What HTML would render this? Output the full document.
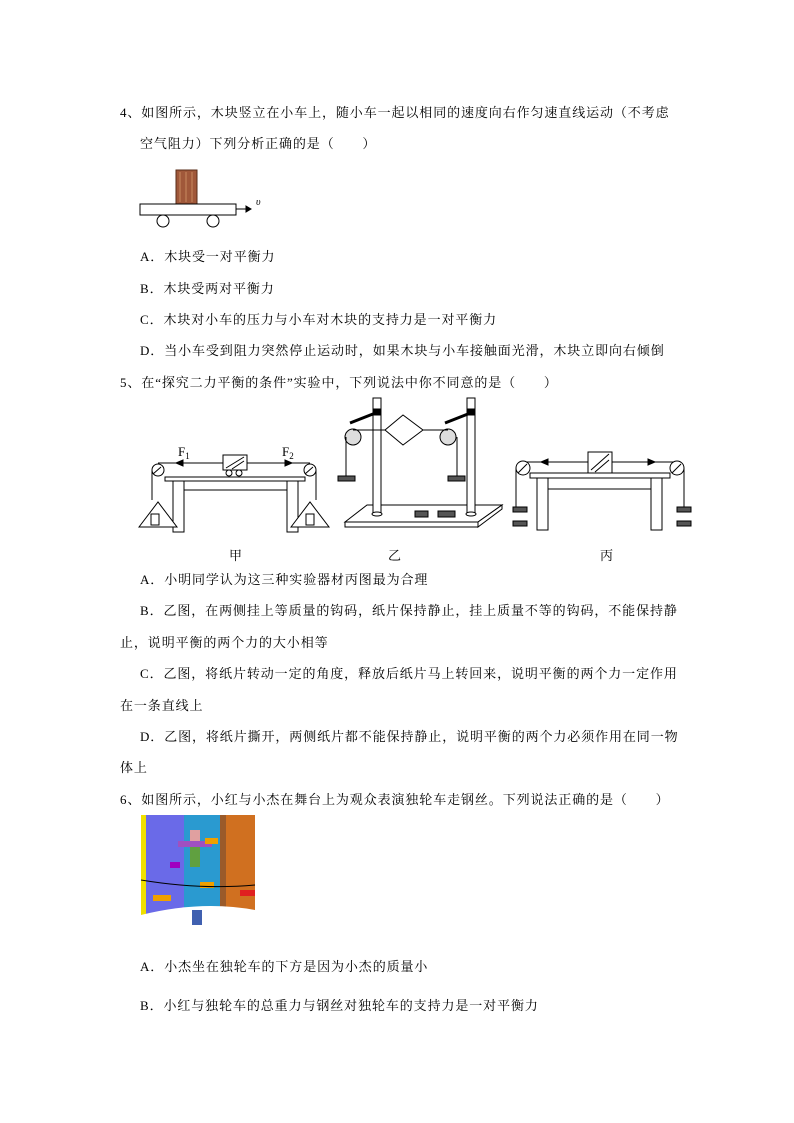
<!DOCTYPE html>
<html><head><meta charset="utf-8"><style>
body{margin:0;background:#fff;width:794px;height:1123px;position:relative;overflow:hidden;font-family:"Liberation Serif","Noto Serif CJK SC",serif;color:#000}
.t{position:absolute;font-size:13px;white-space:nowrap;line-height:16px;letter-spacing:0.9px}
svg{position:absolute;left:0;top:0}
</style></head><body>
<div class="t" style="left:120px;top:105px">4、如图所示，木块竖立在小车上，随小车一起以相同的速度向右作匀速直线运动（不考虑</div>
<div class="t" style="left:140px;top:136px">空气阻力）下列分析正确的是（　　）</div>
<div class="t" style="left:140px;top:249px">A．木块受一对平衡力</div>
<div class="t" style="left:140px;top:281px">B．木块受两对平衡力</div>
<div class="t" style="left:140px;top:312px">C．木块对小车的压力与小车对木块的支持力是一对平衡力</div>
<div class="t" style="left:140px;top:343px">D．当小车受到阻力突然停止运动时，如果木块与小车接触面光滑，木块立即向右倾倒</div>
<div class="t" style="left:120px;top:375px">5、在“探究二力平衡的条件”实验中，下列说法中你不同意的是（　　）</div>
<div class="t" style="left:140px;top:572px">A．小明同学认为这三种实验器材丙图最为合理</div>
<div class="t" style="left:140px;top:603px">B．乙图，在两侧挂上等质量的钩码，纸片保持静止，挂上质量不等的钩码，不能保持静</div>
<div class="t" style="left:120px;top:635px">止，说明平衡的两个力的大小相等</div>
<div class="t" style="left:140px;top:666px">C．乙图，将纸片转动一定的角度，释放后纸片马上转回来，说明平衡的两个力一定作用</div>
<div class="t" style="left:120px;top:698px">在一条直线上</div>
<div class="t" style="left:140px;top:729px">D．乙图，将纸片撕开，两侧纸片都不能保持静止，说明平衡的两个力必须作用在同一物</div>
<div class="t" style="left:120px;top:760px">体上</div>
<div class="t" style="left:120px;top:792px">6、如图所示，小红与小杰在舞台上为观众表演独轮车走钢丝。下列说法正确的是（　　）</div>
<div class="t" style="left:140px;top:959px">A．小杰坐在独轮车的下方是因为小杰的质量小</div>
<div class="t" style="left:140px;top:998px">B．小红与独轮车的总重力与钢丝对独轮车的支持力是一对平衡力</div>

<svg width="794" height="1123" fill="none" stroke="#000" stroke-width="1">
<!-- cart -->
<rect x="176" y="170" width="21" height="34" fill="#a0583a" stroke="#5a2e1a"/>
<path d="M180 172v30M186 172v30M192 172v30" stroke="#c98a60"/>
<rect x="140" y="204" width="96" height="11" fill="#fff"/>
<circle cx="163" cy="221" r="6" fill="#fff"/><circle cx="213" cy="221" r="6" fill="#fff"/>
<path d="M236 209h14"/><path d="M246 206l5 3-5 3z" fill="#000"/>
<text x="256" y="205" font-size="10" font-style="italic" fill="#000" stroke="none">υ</text>
<!-- 甲 -->
<rect x="165" y="477" width="140" height="4" fill="#fff"/>
<rect x="173" y="481" width="11" height="51" fill="#fff"/><rect x="287" y="481" width="11" height="51" fill="#fff"/>
<path d="M184 490h103"/>
<path d="M158 463h152M152 470v30M316 470v30"/>
<circle cx="158" cy="470" r="6" fill="#fff"/><circle cx="310" cy="470" r="6" fill="#fff"/>
<path d="M153 474l8-7M305 474l8-7"/>
<path d="M139 527l19-25 19 25z" fill="#fff"/><path d="M291 527l19-25 19 25z" fill="#fff"/>
<rect x="151" y="514" width="8" height="11"/><rect x="306" y="514" width="8" height="11"/>
<rect x="223" y="455" width="24" height="15" fill="#fff"/><path d="M226 468l18-11M232 469l12-8"/>
<circle cx="229" cy="473" r="3" fill="#fff"/><circle cx="239" cy="473" r="3" fill="#fff"/>
<path d="M176 463l7-3v6z" fill="#000"/><path d="M292 463l-7-3v6z" fill="#000"/>
<text x="178" y="456" font-size="13" fill="#000" stroke="none">F<tspan font-size="9" dy="3">1</tspan></text>
<text x="282" y="456" font-size="13" fill="#000" stroke="none">F<tspan font-size="9" dy="3">2</tspan></text>
<text x="229" y="560" font-size="13" fill="#000" stroke="none">甲</text>
<!-- 乙 -->
<path d="M345 522l22-17h135l-24 17z" fill="#fff"/><path d="M345 522h133v5h-133zM478 527l24-18v-4l-24 17z" fill="#fff"/>
<rect x="373" y="398" width="8" height="117" fill="#fff"/><rect x="467" y="398" width="8" height="117" fill="#fff"/>
<ellipse cx="377" cy="514" rx="5" ry="2" fill="#fff"/><ellipse cx="471" cy="514" rx="5" ry="2" fill="#fff"/>
<path d="M350 423l28-11" stroke-width="3"/><path d="M445 423l28-11" stroke-width="3"/>
<rect x="373" y="409" width="8" height="6" fill="#000"/><rect x="467" y="409" width="8" height="6" fill="#000"/>
<circle cx="353" cy="437" r="8" fill="#ddd"/><circle cx="448" cy="437" r="8" fill="#ddd"/>
<path d="M353 430h32l18-15 20 15-20 15-18-15M423 430h25"/>
<path d="M346 437v39M457 437v39"/>
<rect x="338" y="476" width="17" height="5" fill="#555"/><rect x="448" y="476" width="17" height="5" fill="#555"/>
<rect x="415" y="511" width="13" height="6" fill="#555"/><rect x="438" y="511" width="17" height="6" fill="#555"/>
<text x="388" y="560" font-size="13" fill="#000" stroke="none">乙</text>
<!-- 丙 -->
<rect x="530" y="473" width="140" height="5" fill="#fff"/>
<rect x="537" y="478" width="11" height="52" fill="#fff"/><rect x="651" y="478" width="11" height="52" fill="#fff"/>
<path d="M548 489h103"/>
<path d="M523 462h154M516 468v40M684 468v40"/>
<circle cx="523" cy="468" r="7" fill="#fff"/><circle cx="677" cy="468" r="7" fill="#fff"/>
<path d="M518 473l9-9M672 473l9-9"/>
<rect x="588" y="452" width="24" height="21" fill="#fff"/><path d="M591 470l18-16M595 472l14-12"/>
<path d="M541 462l7-3v6z" fill="#000"/><path d="M655 462l-7-3v6z" fill="#000"/>
<rect x="513" y="507" width="14" height="5" fill="#555"/><rect x="513" y="521" width="14" height="5" fill="#555"/>
<rect x="677" y="507" width="14" height="5" fill="#555"/><rect x="677" y="521" width="14" height="5" fill="#555"/>
<text x="600" y="560" font-size="13" fill="#000" stroke="none">丙</text>
<!-- picture -->
<g stroke="none">
<rect x="141" y="815" width="114" height="112" fill="#fff"/>
<rect x="141" y="815" width="5" height="100" fill="#f0e000"/>
<path d="M146 815h38v100h-38z" fill="#6a6ae8"/>
<path d="M184 815h36v100h-36z" fill="#2a9ad0"/>
<path d="M225 815h30v95h-30z" fill="#d07020"/>
<rect x="220" y="815" width="6" height="112" fill="#9a5a2a"/>
<path d="M141 915q60-15 114-5v17h-114z" fill="#fff"/>
<path d="M190 830h10v14h-10z" fill="#e0a0a0"/>
<path d="M178 841h34v6h-34z" fill="#a050c0"/>
<path d="M190 847h10v20h-10z" fill="#60a040"/>
<path d="M192 910h10v15h-10z" fill="#4060b0"/>
<path d="M153 895h18v6h-18zM205 838h13v6h-13zM200 882h14v6h-14z" fill="#f0a000"/>
<path d="M170 862h10v6h-10z" fill="#a000c0"/>
<path d="M240 890h15v6h-15z" fill="#e02020"/>
</g>
<path d="M141 880q60 10 114 5" stroke="#000"/>
</svg>
</body></html>
